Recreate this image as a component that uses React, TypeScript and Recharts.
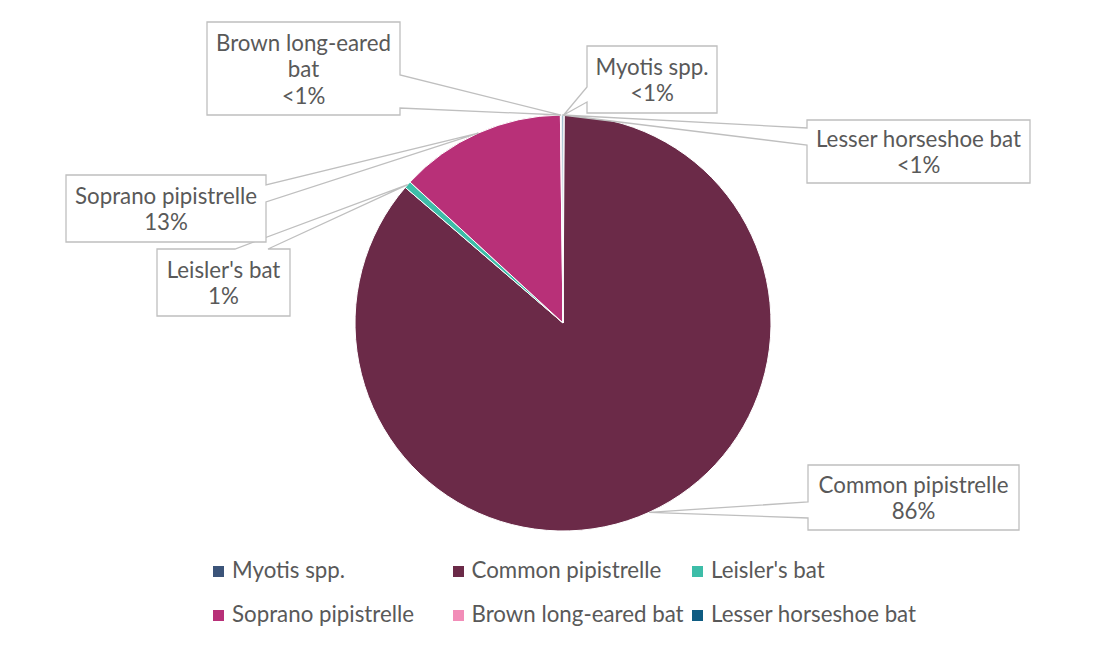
import React from "react";
import { PieChart, Pie, Cell, Legend } from "recharts";

const NAMES = [
  "Myotis spp.",
  "Common pipistrelle",
  "Leisler's bat",
  "Soprano pipistrelle",
  "Brown long-eared bat",
  "Lesser horseshoe bat",
];
const SHARES = [0.1, 86.2, 0.55, 12.95, 0.1, 0.1];
const COLORS = ["#3B5479", "#6B2A48", "#3DBDA8", "#B83078", "#F28DB8", "#0F5C82"];

// callout boxes (Excel-style data callouts), one per slice
const CALLOUTS = [
  { x: 587, y: 46, w: 130, h: 67, side: "left", a: 87, b: 102, wrap: 20 },
  { x: 808, y: 465, w: 211, h: 65, side: "left", a: 502, b: 518, wrap: 20 },
  { x: 157, y: 249, w: 133, h: 67, side: "top", a: 235, b: 268, wrap: 20 },
  { x: 66, y: 175, w: 200, h: 67, side: "right", a: 185, b: 202, wrap: 20 },
  { x: 207, y: 22, w: 193, h: 93, side: "right", a: 75, b: 108, wrap: 16 },
  { x: 807, y: 120, w: 223, h: 63, side: "left", a: 128, b: 145, wrap: 22 },
];

const FONT = "Lato, 'Open Sans', sans-serif";
const FONT_SIZE = 22.3;
const TEXT = "#595959";
const RAD = Math.PI / 180;

const data = NAMES.map((name, i) => ({ name, value: SHARES[i] }));

function wrapText(s: string, max: number) {
  const words = s.split(" ");
  const lines: string[] = [];
  let cur = "";
  words.forEach((w) => {
    const next = cur ? cur + " " + w : w;
    if (next.length > max && cur) {
      lines.push(cur);
      cur = w;
    } else cur = next;
  });
  if (cur) lines.push(cur);
  return lines;
}

function calloutPath(c: any, ax: number, ay: number) {
  const x0 = c.x, y0 = c.y, x1 = c.x + c.w, y1 = c.y + c.h;
  if (c.side === "left")
    return `M${x0},${y0}L${x1},${y0}L${x1},${y1}L${x0},${y1}L${x0},${c.b}L${ax},${ay}L${x0},${c.a}Z`;
  if (c.side === "right")
    return `M${x0},${y0}L${x1},${y0}L${x1},${c.a}L${ax},${ay}L${x1},${c.b}L${x1},${y1}L${x0},${y1}Z`;
  if (c.side === "top")
    return `M${x0},${y0}L${c.a},${y0}L${ax},${ay}L${c.b},${y0}L${x1},${y0}L${x1},${y1}L${x0},${y1}Z`;
  return `M${x0},${y0}L${x1},${y0}L${x1},${y1}L${c.b},${y1}L${ax},${ay}L${c.a},${y1}L${x0},${y1}Z`;
}

const renderCallout = (props: any) => {
  const { cx, cy, midAngle, outerRadius, index, name, percent } = props;
  const c = CALLOUTS[index];
  const ax = cx + outerRadius * Math.cos(-midAngle * RAD);
  const ay = cy + outerRadius * Math.sin(-midAngle * RAD);
  const pct = Math.round(percent * 100);
  const lines = [...wrapText(name, c.wrap), pct === 0 ? "<1%" : `${pct}%`];
  const lh = 26.5;
  const startY = c.y + c.h / 2 - ((lines.length - 1) * lh) / 2;
  return (
    <g key={`callout-${index}`}>
      <path d={calloutPath(c, ax, ay)} fill="#fff" stroke="#BFBFBF" strokeWidth={1.3} />
      {lines.map((l, k) => (
        <text
          key={k}
          x={c.x + c.w / 2}
          y={startY + k * lh}
          textAnchor="middle"
          dominantBaseline="central"
          fill={TEXT}
          fontSize={FONT_SIZE}
          fontFamily={FONT}
        >
          {l}
        </text>
      ))}
    </g>
  );
};

const LegendGrid = () => (
  <div style={{ position: "relative", width: 1113, height: 80, fontFamily: FONT, fontSize: FONT_SIZE, color: TEXT }}>
    {NAMES.map((n, i) => {
      const col = i % 3;
      const row = Math.floor(i / 3);
      return (
        <div
          key={n}
          style={{
            position: "absolute",
            left: 213 + col * 239.5,
            top: row * 44,
            display: "flex",
            alignItems: "center",
            whiteSpace: "nowrap",
          }}
        >
          <span style={{ width: 11, height: 11, background: COLORS[i], display: "inline-block", marginRight: 8, marginTop: 3 }} />
          <span>{n}</span>
        </div>
      );
    })}
  </div>
);

export default function App() {
  return (
    <div style={{ position: "relative", width: 1113, height: 646, margin: -8, background: "#fff", overflow: "hidden" }}>
      <div
        style={{
          position: "absolute",
          left: 7,
          top: 4,
          width: 1120,
          height: 660,
          border: "1px solid #D9D9D9",
        }}
      />
      <PieChart width={1113} height={646} margin={{ top: 0, right: 0, bottom: 0, left: 0 }} style={{ position: "absolute", left: 0, top: 0 }}>
        <Pie
          data={data}
          dataKey="value"
          nameKey="name"
          cx={563}
          cy={323}
          outerRadius={208}
          startAngle={90}
          endAngle={-270}
          stroke="#fff"
          strokeWidth={1}
          isAnimationActive={false}
          labelLine={false}
          label={renderCallout}
        >
          {data.map((d, i) => (
            <Cell key={d.name} fill={COLORS[i]} />
          ))}
        </Pie>
        <Legend
          verticalAlign="bottom"
          content={() => <LegendGrid />}
          wrapperStyle={{ position: "absolute", left: 0, top: 556, width: 1113, height: 80 }}
        />
      </PieChart>
    </div>
  );
}
